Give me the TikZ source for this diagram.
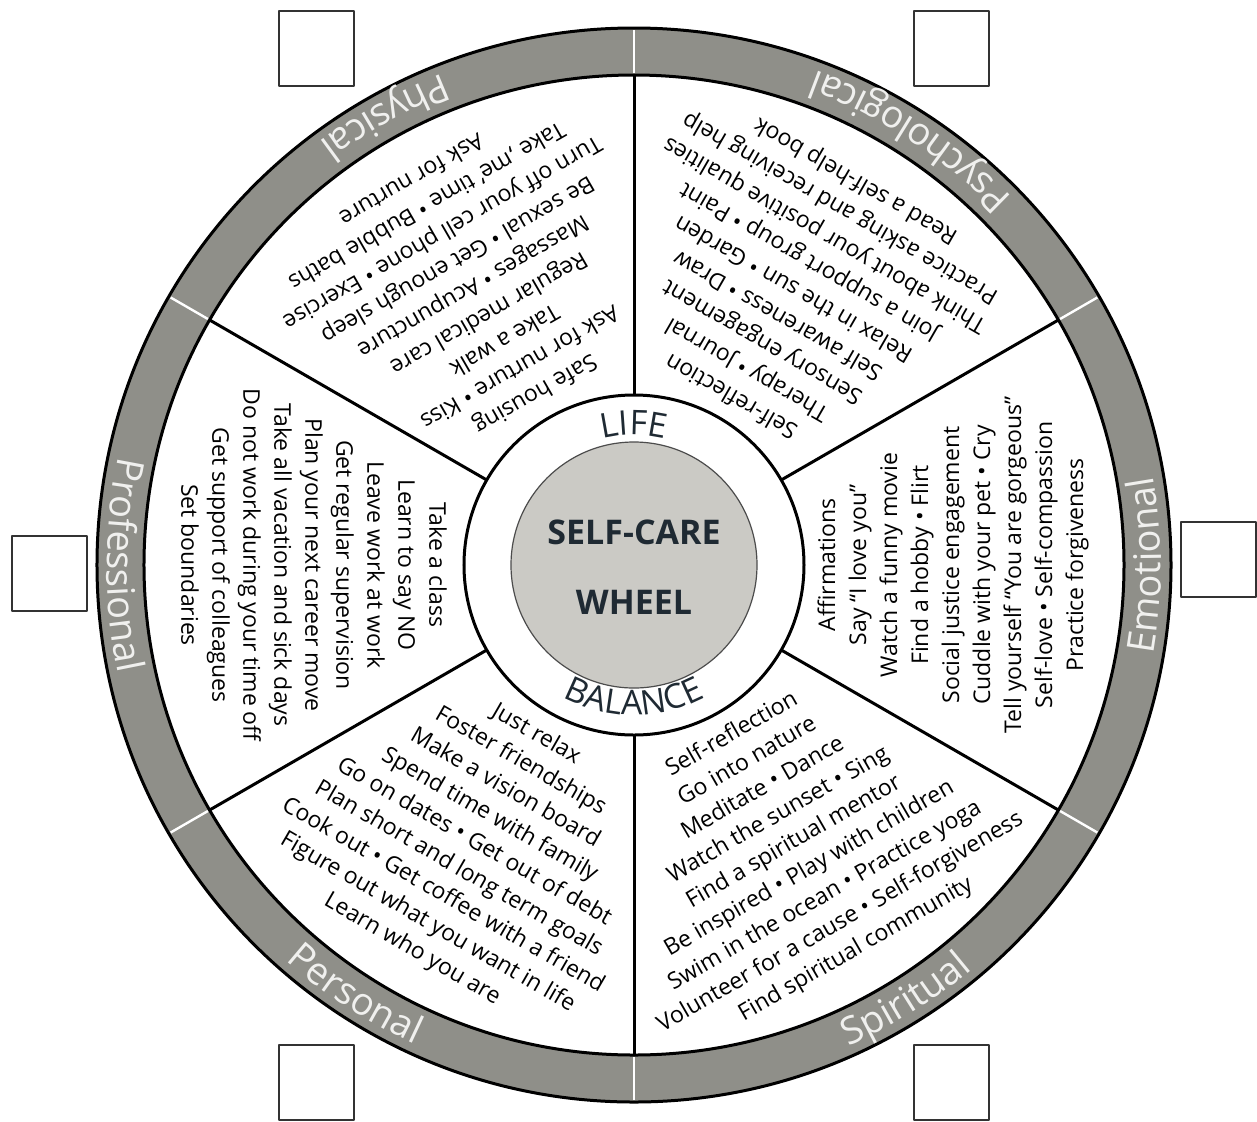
\documentclass[tikz,border=0pt]{standalone}
\usepackage{fontspec}
\setmainfont{Open Sans}
\usetikzlibrary{decorations.text}
\definecolor{ringgray}{HTML}{8F8F89}
\definecolor{hubgray}{HTML}{CBCAC5}
\definecolor{hubtext}{HTML}{1F2A33}
\definecolor{ringtext}{HTML}{F0F0EE}
\newcommand\ringfont{\fontsize{19}{19}\selectfont\color{ringtext}}
\newcommand\hubfont{\fontsize{17}{17}\selectfont\color{hubtext}}

\begin{document}
\begin{tikzpicture}[x=.5pt,y=.5pt,line join=round,
  sector/.style={align=center,font=\fontsize{11.5}{15.5}\selectfont,inner sep=0pt},
  checkbox/.style={draw=black!80,line width=1pt,fill=white,minimum size=37.5pt,inner sep=0pt},
  alongarc/.style={decorate,decoration={text along path,text align=center,text={#1}}}]
  \useasboundingbox (-634,-556) rectangle (623,565);
  % rim and spokes
  \fill[ringgray,even odd rule] (0,0) circle[radius=537] (0,0) circle[radius=490];
  \draw[line width=1.5pt] (0,0) circle[radius=537] (0,0) circle[radius=490];
  \foreach \a in {30,90,...,330} {
    \draw[white,line width=1.2pt] (\a:492) -- (\a:535);
    \draw[line width=1.5pt] (\a:170) -- (\a:490);
  }
  % rim labels
  \path[alongarc={|\ringfont|Physical}] (79:527) arc[start angle=79,end angle=159,radius=527];
  \path[alongarc={|\ringfont|Psychological}] (17:527) arc[start angle=17,end angle=97,radius=527];
  \path[alongarc={|\ringfont|Emotional}] (-40:527) arc[start angle=-40,end angle=40,radius=527];
  \path[alongarc={|\ringfont|Spiritual}] (262:527) arc[start angle=262,end angle=342,radius=527];
  \path[alongarc={|\ringfont|Personal}] (197:527) arc[start angle=197,end angle=277,radius=527];
  \path[alongarc={|\ringfont|Professional}] (140:527) arc[start angle=140,end angle=220,radius=527];
  % hub
  \draw[line width=1.5pt,fill=white] (0,0) circle[radius=170];
  \draw[line width=.6pt,draw=black!70,fill=hubgray] (0,0) circle[radius=123];
  \node[font=\hubfont\bfseries] (selfcare) at (0,33) {SELF-CARE};
  \node[font=\hubfont\bfseries] (wheel) at (0,-37) {WHEEL};
  \path[alongarc={|\hubfont|LIFE}] (140:130) arc[start angle=140,end angle=40,radius=130];
  \path[alongarc={|\hubfont|BALANCE}] (220:150) arc[start angle=220,end angle=320,radius=150];
  % sectors
  \node[sector,rotate=210] (physical) at (120:320) {Safe housing\\Ask for nurture • Kiss\\Take a walk\\Regular medical care\\Massages • Acupuncture\\Be sexual • Get enough sleep\\Turn off your cell phone • Exercise\\Take ‚me’ time • Bubble baths\\Ask for nurture};
  \node[sector,rotate=150] (psych) at (60:320) {Self-reflection\\Therapy • Journal\\Sensory engagement\\Self awareness • Draw\\Relax in the sun • Garden\\Join a support group • Paint\\Think about your positive qualities\\Practice asking and receiving help\\Read a self-help book};
  \node[sector,rotate=90] (emotional) at (0:319) {Affirmations\\Say “I love you”\\Watch a funny movie\\Find a hobby • Flirt\\Social justice engagement\\Cuddle with your pet • Cry\\Tell yourself “You are gorgeous”\\Self-love • Self-compassion\\Practice forgiveness};
  \node[sector,rotate=30] (spiritual) at (300:320) {Self-reflection\\Go into nature\\Meditate • Dance\\Watch the sunset • Sing\\Find a spiritual mentor\\Be inspired • Play with children\\Swim in the ocean • Practice yoga\\Volunteer for a cause • Self-forgiveness\\Find spiritual community};
  \node[sector,rotate=-30] (personal) at (240:320) {Just relax\\Foster friendships\\Make a vision board\\Spend time with family\\Go on dates • Get out of debt\\Plan short and long term goals\\Cook out • Get coffee with a friend\\Figure out what you want in life\\Learn who you are};
  \node[sector,rotate=-90] (professional) at (180:320) {Take a class\\Learn to say NO\\Leave work at work\\Get regular supervision\\Plan your next career move\\Take all vacation and sick days\\Do not work during your time off\\Get support of colleagues\\Set boundaries};
  % tick boxes
  \node[checkbox] (cbphys) at (-317,516.5) {};
  \node[checkbox] (cbpsych) at (317,516.5) {};
  \node[checkbox] (cbprof) at (-584.5,-8) {};
  \node[checkbox] (cbemo) at (584,5.5) {};
  \node[checkbox] (cbpers) at (-317,-517.5) {};
  \node[checkbox] (cbspir) at (317,-517.5) {};
\end{tikzpicture}
\end{document}
